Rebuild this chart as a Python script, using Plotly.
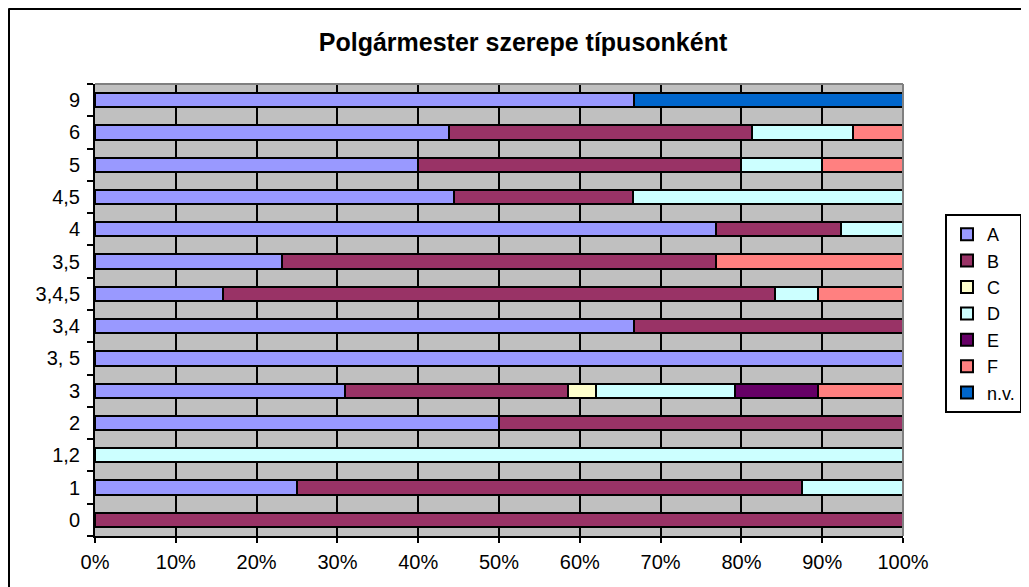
import plotly.graph_objects as go

categories = ["0", "1", "1,2", "2", "3", "3, 5", "3,4", "3,4,5", "3,5", "4", "4,5", "5", "6", "9"]
series_names = ["A", "B", "C", "D", "E", "F", "n.v."]
A = [None, 25.0, None, 50.0, 31.0, 100.0, 66.7, 15.8, 23.1, 76.9, 44.4, 40.0, 43.75, 66.7]
B = [100.0, 62.5, None, 50.0, 27.6, None, 33.3, 68.4, 53.8, 15.4, 22.2, 40.0, 37.5, None]
C = [None, None, None, None, 3.4, None, None, None, None, None, None, None, None, None]
D = [None, 12.5, 100.0, None, 17.2, None, None, 5.3, None, 7.7, 33.4, 10.0, 12.5, None]
E = [None, None, None, None, 10.3, None, None, None, None, None, None, None, None, None]
F = [None, None, None, None, 10.5, None, None, 10.5, 23.1, None, None, 10.0, 6.25, None]
NV = [None, None, None, None, None, None, None, None, None, None, None, None, None, 33.3]
x_ticks = [0, 10, 20, 30, 40, 50, 60, 70, 80, 90, 100]
x_tick_labels = ["0%", "10%", "20%", "30%", "40%", "50%", "60%", "70%", "80%", "90%", "100%"]
title_text = "Polgármester szerepe típusonként"

colors = ["#9999FF", "#993366", "#FFFFCC", "#CCFFFF", "#660066", "#FF8080", "#0066CC"]
values = [A, B, C, D, E, F, NV]

# page body has an 8px margin; figure is placed at (8, 8) on screen
OFF = 8
W, H = 1029 - OFF, 587 - OFF
ML, MT = 95 - OFF, 84 - OFF
MR = W - (903 - OFF)
MB = H - (536 - OFF)
pw, ph = W - ML - MR, H - MT - MB

fig = go.Figure()
for name, vals, col in zip(series_names, values, colors):
    fig.add_trace(go.Bar(
        y=categories, x=vals, name=name, orientation="h",
        marker=dict(color=col, line=dict(color="black", width=2)),
        hoverinfo="skip",
    ))

def px_x(p):  # screen px -> paper x
    return (p - OFF - ML) / pw

def px_y(p):  # screen px -> paper y
    return (H + OFF - MB - p) / ph

shapes = [
    dict(type="line", xref="paper", yref="paper", x0=0, x1=1, y0=1, y1=1,
         line=dict(color="#808080", width=2)),
    dict(type="line", xref="paper", yref="paper", x0=1, x1=1, y0=0, y1=1,
         line=dict(color="#808080", width=2)),
    dict(type="line", xref="paper", yref="paper", x0=px_x(8.5), x1=px_x(1040),
         y0=px_y(8.5), y1=px_y(8.5), line=dict(color="black", width=3)),
    dict(type="line", xref="paper", yref="paper", x0=px_x(8.5), x1=px_x(8.5),
         y0=px_y(8.5), y1=px_y(600), line=dict(color="black", width=3)),
]

fig.update_layout(
    width=W, height=H,
    margin=dict(l=ML, r=MR, t=MT, b=MB, autoexpand=False),
    barmode="stack", bargap=0.56,
    paper_bgcolor="white", plot_bgcolor="#C0C0C0",
    font=dict(family="Liberation Sans, Arial, sans-serif", color="black", size=20),
    title=dict(text="<b>" + title_text + "</b>", x=(523 - OFF) / W, xanchor="center",
               y=1 - (42 - OFF) / H, yanchor="middle", xref="container", yref="container",
               font=dict(size=25, color="black")),
    showlegend=True,
    legend=dict(x=px_x(945), y=px_y(214), xanchor="left", yanchor="top",
                bordercolor="black", borderwidth=2, bgcolor="white",
                font=dict(size=18), traceorder="normal", tracegroupgap=0,
                itemwidth=30),
    shapes=shapes,
)
fig.update_xaxes(range=[0, 100], tickvals=x_ticks, ticktext=x_tick_labels,
                 showgrid=True, gridcolor="black", gridwidth=2,
                 showline=True, linecolor="black", linewidth=2,
                 ticks="outside", ticklen=5, tickwidth=2, tickcolor="black",
                 ticklabelstandoff=2, zeroline=False, fixedrange=True)
fig.update_yaxes(type="category", categoryorder="array", categoryarray=categories,
                 showgrid=False, showline=True, linecolor="black", linewidth=2,
                 ticks="outside", ticklen=6, tickwidth=2, tickcolor="black",
                 tickson="boundaries", ticklabelstandoff=9, fixedrange=True)

fig.write_html("out.html")
